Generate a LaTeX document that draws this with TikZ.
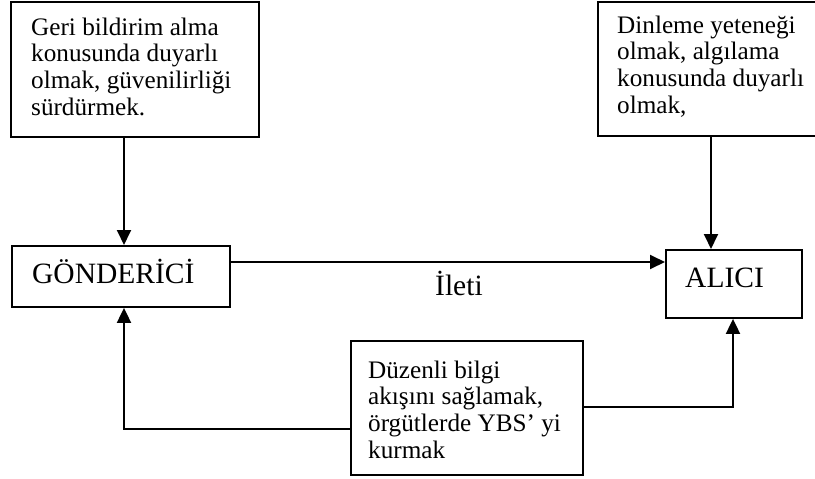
\documentclass[tikz,border=0pt]{standalone}
\usepackage{fontspec}
\setmainfont{Liberation Serif}
\usetikzlibrary{arrows.meta}
\begin{document}
\begin{tikzpicture}[x=1pt,y=-1pt,
  box/.style={draw, line width=1.9pt, inner sep=0pt, anchor=north west},
  note/.style={anchor=base west, inner sep=0pt, font=\fontsize{25.2}{26.7}\selectfont},
  title/.style={anchor=base west, inner sep=0pt, font=\fontsize{29.5}{32}\selectfont},
  wire/.style={line width=1.9pt},
  arr/.style={wire, -{Triangle[length=15pt,width=14pt]}}]
\useasboundingbox (0,0) rectangle (815,479);

% frames
\node[box, minimum width=248pt, minimum height=135pt] (tl) at (10,1) {};
\node[box, minimum width=223pt, minimum height=134pt] (tr) at (597,1) {};
\node[box, minimum width=218pt, minimum height=61pt] (gon) at (11,245) {};
\node[box, minimum width=136pt, minimum height=68pt] (alici) at (665,249) {};
\node[box, minimum width=232pt, minimum height=134pt] (bot) at (350,340) {};

% texts
\node[note] (tltext) at (31,35) {\begin{tabular}[t]{@{}l@{}}Geri bildirim alma\\ konusunda duyarlı\\ olmak, güvenilirliği\\ sürdürmek.\end{tabular}};
\node[note] (trtext) at (617,33) {\begin{tabular}[t]{@{}l@{}}Dinleme yeteneği\\ olmak, algılama\\ konusunda duyarlı\\ olmak,\end{tabular}};
\node[note] (bottext) at (368,378) {\begin{tabular}[t]{@{}l@{}}Düzenli bilgi\\ akışını sağlamak,\\ örgütlerde YBS’ yi\\ kurmak\end{tabular}};
\node[title] (gontext) at (32,283) {GÖNDERİCİ};
\node[title] (alicitext) at (685,287) {ALICI};
\node[title] (ileti) at (435,295) {İleti};

% connectors
\draw[arr] (tl.south -| 124,0) -- (gon.north -| 124,0);
\draw[arr] (tr.south -| 711,0) -- (alici.north -| 711,0);
\draw[arr] (gon.east |- 0,262) -- (alici.west |- 0,262);
\draw[arr] (bot.west |- 0,429) -| (gon.south -| 124,0);
\draw[arr] (bot.east |- 0,407) -| (alici.south -| 733,0);
\end{tikzpicture}
\end{document}
